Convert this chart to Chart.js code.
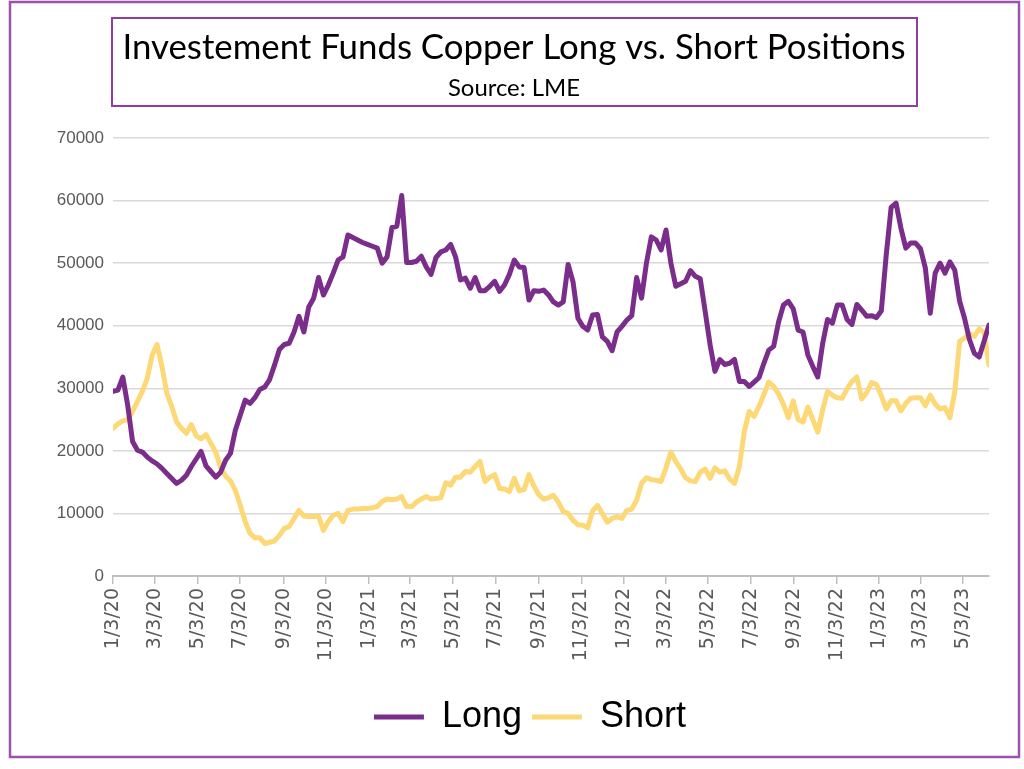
<!DOCTYPE html>
<html lang="en">
<head>
    <meta charset="UTF-8">
    <title>Investement Funds Copper Long vs. Short Positions</title>
    <script src="https://cdn.jsdelivr.net/npm/chart.js@4.4.1/dist/chart.umd.min.js"></script>
    <style>
        html, body { margin: 0; padding: 0; background: #ffffff; }
        #wrap { position: relative; width: 1024px; height: 769px; }
    </style>
</head>
<body>
    <div id="wrap">
        <canvas id="cotChart" width="1024" height="769"></canvas>
    </div>

    <script>
        // Titulo e fonte
        const chartTitle = 'Investement Funds Copper Long vs. Short Positions';
        const chartSource = 'Source: LME';

        // Primeira semana da serie (dados semanais do LME)
        const firstWeek = '1/3/20';

        // Posicoes long dos fundos (lotes), uma por semana
        const longPositions = [
            29500, 29700, 31800, 27300, 21500, 20100, 19800, 19000, 18400, 17900,
            17200, 16400, 15600, 14800, 15300, 16100, 17500, 18700, 19900, 17600,
            16700, 15800, 16600, 18500, 19600, 23300, 25700, 28100, 27600, 28500,
            29800, 30200, 31400, 33700, 36200, 37000, 37200, 39000, 41500, 39000,
            43000, 44400, 47700, 44900, 46500, 48400, 50500, 51000, 54500, 54100,
            53700, 53300, 53000, 52700, 52400, 50000, 51000, 55700, 55900, 60800,
            50100, 50100, 50300, 51100, 49400, 48200, 50900, 51800, 52100, 53000,
            51000, 47300, 47600, 46000, 47700, 45600, 45600, 46300, 47100, 45500,
            46500, 48200, 50500, 49400, 49300, 44100, 45600, 45500, 45700, 44900,
            43800, 43300, 43800, 49800, 47000, 41200, 39900, 39300, 41700, 41800,
            38200, 37500, 36000, 39000, 39900, 40900, 41600, 47700, 44400, 50000,
            54200, 53700, 52100, 55300, 50000, 46300, 46700, 47100, 48800, 47900,
            47500, 42300, 37000, 32700, 34600, 33800, 34000, 34600, 31100, 31100,
            30300, 31000, 31700, 34000, 36100, 36700, 40600, 43300, 43900, 42700,
            39300, 39000, 35300, 33500, 31800, 37100, 41000, 40400, 43300, 43300,
            41000, 40200, 43400, 42500, 41500, 41600, 41300, 42400, 51300, 58900,
            59600, 55600, 52400, 53200, 53200, 52300, 49200, 42000, 48400, 50000,
            48400, 50200, 48900, 43900, 41200, 37800, 35600, 35000, 37500, 40100
        ];

        // Posicoes short dos fundos (lotes), uma por semana
        const shortPositions = [
            23600, 24300, 24800, 25000, 26300, 27900, 29500, 31600, 35300, 37000,
            33500, 29200, 27100, 24600, 23600, 22800, 24200, 22400, 21900, 22600,
            21200, 19800, 17300, 16000, 15200, 13700, 11300, 8700, 6800, 6100,
            6100, 5200, 5400, 5600, 6500, 7600, 7900, 9200, 10500, 9600,
            9500, 9500, 9600, 7300, 8700, 9700, 10000, 8700, 10500, 10700,
            10700, 10800, 10800, 10900, 11100, 11900, 12300, 12200, 12300, 12700,
            11100, 11100, 11800, 12300, 12700, 12300, 12400, 12500, 14900, 14500,
            15800, 15800, 16700, 16600, 17500, 18300, 15100, 15800, 16200, 14000,
            13900, 13500, 15600, 13600, 13800, 16200, 14400, 13000, 12300, 12500,
            12900, 11800, 10300, 10000, 8900, 8200, 8100, 7700, 10400, 11300,
            10000, 8600, 9200, 9500, 9200, 10500, 10700, 12100, 14800, 15700,
            15400, 15300, 15100, 17300, 19800, 18300, 17100, 15700, 15200, 15100,
            16600, 17100, 15600, 17300, 16600, 16800, 15500, 14800, 17500, 23100,
            26300, 25500, 27100, 29000, 31000, 30300, 29100, 27400, 25300, 28000,
            25000, 24600, 27000, 25000, 23000, 26500, 29500, 28900, 28500, 28400,
            29900, 31100, 31800, 28300, 29300, 30900, 30600, 28800, 26700, 28000,
            28000, 26400, 27600, 28400, 28500, 28500, 27200, 28900, 27500, 26700,
            26900, 25300, 29400, 37500, 38000, 38700, 38300, 39500, 38900, 33700
        ];

        // Rotulos do eixo x (a cada dois meses) e do eixo y
        const tickLabels = [
            '1/3/20', '3/3/20', '5/3/20', '7/3/20', '9/3/20', '11/3/20',
            '1/3/21', '3/3/21', '5/3/21', '7/3/21', '9/3/21', '11/3/21',
            '1/3/22', '3/3/22', '5/3/22', '7/3/22', '9/3/22', '11/3/22',
            '1/3/23', '3/3/23', '5/3/23'
        ];
        const yTicks = [0, 10000, 20000, 30000, 40000, 50000, 60000, 70000];

        const purple = '#7b2d8b';
        const yellow = '#fdd877';
        const gray = '#595959';

        // converte m/d/yy em dias contados a partir da primeira semana
        function toDate(label) {
            const [m, d, y] = label.split('/').map(Number);
            return Date.UTC(2000 + y, m - 1, d);
        }
        const t0 = toDate(firstWeek);
        const dayOf = label => (toDate(label) - t0) / 86400000;

        const weekDays = longPositions.map((_, i) => i * 7);
        const tickDays = tickLabels.map(dayOf);

        // moldura externa, caixa do titulo e textos do titulo
        const framePlugin = {
            id: 'frame',
            beforeDraw(chart) {
                const c = chart.ctx;
                c.save();
                c.fillStyle = '#ffffff';
                c.fillRect(0, 0, chart.width, chart.height);
                c.restore();
            },
            afterDraw(chart) {
                const c = chart.ctx;
                c.save();
                c.strokeStyle = '#9d52ab';
                c.lineWidth = 2.5;
                c.strokeRect(10, 2, 1009, 755);

                c.strokeStyle = '#8e3f9d';
                c.lineWidth = 2;
                c.strokeRect(112, 18, 805, 88);

                c.fillStyle = '#000000';
                c.textAlign = 'center';
                c.textBaseline = 'middle';

                c.font = '32px Lato';
                let size = 32 * 784 / c.measureText(chartTitle).width;
                c.font = size.toFixed(1) + 'px Lato';
                c.fillText(chartTitle, 514, 48);

                c.font = '20px Lato';
                size = 20 * 132 / c.measureText(chartSource).width;
                c.font = size.toFixed(1) + 'px Lato';
                c.fillText(chartSource, 514, 88);
                c.restore();
            }
        };

        const ctx = document.getElementById('cotChart').getContext('2d');

        new Chart(ctx, {
            type: 'line',
            data: {
                datasets: [
                    {
                        label: 'Long',
                        data: longPositions.map((v, i) => ({ x: weekDays[i], y: v })),
                        borderColor: purple,
                        backgroundColor: purple,
                        borderWidth: 5,
                        borderJoinStyle: 'round',
                        borderCapStyle: 'round',
                        pointRadius: 0,
                        tension: 0
                    },
                    {
                        label: 'Short',
                        data: shortPositions.map((v, i) => ({ x: weekDays[i], y: v })),
                        borderColor: yellow,
                        backgroundColor: yellow,
                        borderWidth: 5,
                        borderJoinStyle: 'round',
                        borderCapStyle: 'round',
                        pointRadius: 0,
                        tension: 0
                    }
                ]
            },
            options: {
                responsive: false,
                animation: false,
                layout: {
                    padding: { top: 138, left: 36, right: 0, bottom: 24 }
                },
                scales: {
                    x: {
                        type: 'linear',
                        min: 0,
                        max: weekDays[weekDays.length - 1],
                        afterBuildTicks: scale => {
                            scale.ticks = tickDays.map(v => ({ value: v }));
                        },
                        afterFit: scale => { scale.height = 113; },
                        ticks: {
                            autoSkip: false,
                            minRotation: 90,
                            maxRotation: 90,
                            padding: 4,
                            color: gray,
                            font: { family: 'DejaVu Sans, sans-serif', size: 19 },
                            callback: (value, index) => tickLabels[index]
                        },
                        grid: {
                            drawOnChartArea: false,
                            drawTicks: true,
                            tickLength: 8,
                            color: '#bfbfbf',
                            lineWidth: 1.5
                        },
                        border: { color: '#bfbfbf', width: 2 }
                    },
                    y: {
                        min: 0,
                        max: 70000,
                        afterBuildTicks: scale => {
                            scale.ticks = yTicks.map(v => ({ value: v }));
                        },
                        afterFit: scale => { scale.width = 77; },
                        ticks: {
                            padding: 9,
                            color: gray,
                            font: { family: 'Liberation Sans, Arial, sans-serif', size: 17 },
                            callback: value => String(value)
                        },
                        grid: {
                            drawTicks: false,
                            color: '#d9d9d9',
                            lineWidth: 1.5
                        },
                        border: { display: false }
                    },
                    // eixo vazio a direita, so para reservar a margem
                    yRight: {
                        position: 'right',
                        afterFit: scale => { scale.width = 35; },
                        ticks: { display: false },
                        grid: { display: false },
                        border: { display: false }
                    }
                },
                plugins: {
                    legend: {
                        position: 'bottom',
                        labels: {
                            usePointStyle: true,
                            pointStyle: 'line',
                            pointStyleWidth: 50,
                            padding: 10,
                            color: '#000000',
                            font: { family: 'Liberation Sans, Arial, sans-serif', size: 36 }
                        }
                    },
                    tooltip: { enabled: false }
                }
            },
            plugins: [framePlugin]
        });
    </script>
</body>
</html>
